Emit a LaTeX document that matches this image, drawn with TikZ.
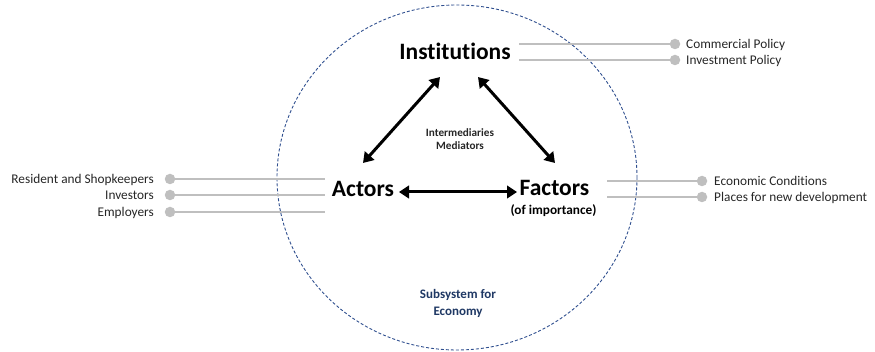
\documentclass[tikz,border=0pt]{standalone}
\usepackage{fontspec}
\setmainfont{Carlito}[Ligatures=NoCommon]
\usetikzlibrary{arrows.meta}
\definecolor{ringblue}{HTML}{2F4F8F}
\definecolor{navytxt}{HTML}{1F3864}
\definecolor{lgray}{HTML}{BFBFBF}
\definecolor{txtgray}{HTML}{262626}
\tikzset{
  big/.style={font=\bfseries\fontsize{23.5}{26}\selectfont, inner sep=0pt, anchor=base},
  small/.style={font=\fontsize{13.3}{15}\selectfont, inner sep=0pt, text=txtgray},
  dot/.style={circle, fill=lgray, draw=none, minimum size=10.5pt, inner sep=0pt},
  link/.style={draw=lgray, line width=1.2pt},
  bigarrow/.style={line width=3pt, {Triangle[length=10pt,width=12.5pt]}-{Triangle[length=10pt,width=12.5pt]}}
}
\begin{document}
\begin{tikzpicture}[x=1pt,y=-1pt]
\useasboundingbox (0,0) rectangle (875,352);
\draw[ringblue, dashed, dash pattern=on 3pt off 2pt, line width=0.9pt] (457,177.5) ellipse [x radius=180, y radius=172.5];

\node[big] (inst) at (455,60) {Institutions};
\node[big] (act) at (363,197) {Actors};
\node[big] (fac) at (554.5,196) {Factors};
\node[font=\bfseries\fontsize{13.3}{15}\selectfont, inner sep=0pt, anchor=base] (imp) at (553.5,215) {(of importance)};
\node[font=\bfseries\fontsize{11.2}{13}\selectfont, inner sep=0pt, align=center, text=txtgray] (med) at (460,139) {Intermediaries\\[0pt]Mediators};
\node[font=\bfseries\fontsize{13}{15}\selectfont, inner sep=0pt, align=center, text=navytxt] (sub) at (458,303) {Subsystem for\\[2pt]Economy};

% arrows
\coordinate (a1) at (440,77);
\coordinate (a2) at (363,163);
\coordinate (b1) at (478,77);
\coordinate (b2) at (555,163);
\coordinate (c1) at (399,192);
\coordinate (c2) at (517,192);
\draw[bigarrow] (a1) -- (a2);
\draw[bigarrow] (b1) -- (b2);
\draw[bigarrow] (c1) -- (c2);

% institutions side
\coordinate (i1) at (519,44);
\coordinate (i2) at (519,60);
\node[dot] (di1) at (675,44) {};
\node[dot] (di2) at (675,60) {};
\draw[link] (i1) -- (di1);
\draw[link] (i2) -- (di2);
\node[small, anchor=base west] (ti1) at (686,48.5) {Commercial Policy};
\node[small, anchor=base west] (ti2) at (686,64.5) {Investment Policy};

% actors side
\coordinate (l1) at (325,179);
\coordinate (l2) at (325,195);
\coordinate (l3) at (325,212);
\node[dot] (dl1) at (170,179) {};
\node[dot] (dl2) at (170,195) {};
\node[dot] (dl3) at (170,212) {};
\draw[link] (dl1) -- (l1);
\draw[link] (dl2) -- (l2);
\draw[link] (dl3) -- (l3);
\node[small, anchor=base east] (tl1) at (154,183.5) {Resident and Shopkeepers};
\node[small, anchor=base east] (tl2) at (154,199.5) {Investors};
\node[small, anchor=base east] (tl3) at (154,216.5) {Employers};

% factors side
\coordinate (r1) at (607,181);
\coordinate (r2) at (607,197);
\node[dot] (dr1) at (702,181) {};
\node[dot] (dr2) at (702,197) {};
\draw[link] (r1) -- (dr1);
\draw[link] (r2) -- (dr2);
\node[small, anchor=base west] (tr1) at (714,185.5) {Economic Conditions};
\node[small, anchor=base west] (tr2) at (714,201.5) {Places for new development};
\end{tikzpicture}
\end{document}
